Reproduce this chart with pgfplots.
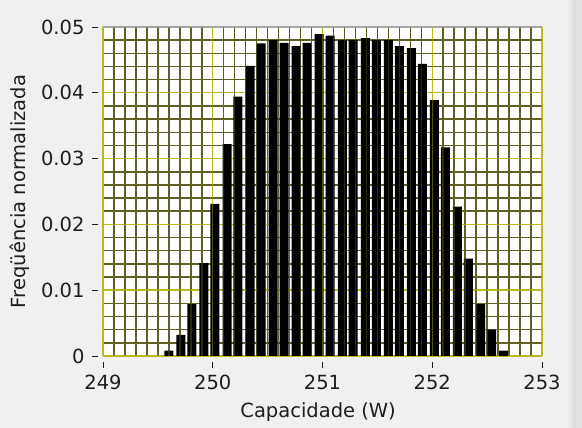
\documentclass[border=0pt]{standalone}
\usepackage{fontspec}
\setmainfont{DejaVu Sans}
\usepackage{pgfplots}
\pgfplotsset{compat=1.18}
\definecolor{bg}{RGB}{240,240,240}
\definecolor{strip}{RGB}{226,226,226}
\definecolor{stripdark}{RGB}{218,218,218}
\definecolor{gmajor}{RGB}{188,188,24}
\definecolor{gminor}{RGB}{95,95,38}
\definecolor{framegray}{RGB}{165,165,165}
\definecolor{txt}{RGB}{30,30,30}

\pgfplotstableread{
x y
249.60 0.0008
249.71 0.0032
249.81 0.0079
249.92 0.0141
250.02 0.0231
250.13 0.0322
250.23 0.0394
250.34 0.0441
250.44 0.0475
250.55 0.0480
250.65 0.0476
250.76 0.0471
250.86 0.0476
250.97 0.0489
251.07 0.0487
251.18 0.0480
251.28 0.0480
251.39 0.0483
251.49 0.0480
251.60 0.0480
251.70 0.0471
251.81 0.0468
251.91 0.0444
252.02 0.0389
252.12 0.0317
252.23 0.0227
252.33 0.0148
252.44 0.0079
252.54 0.0040
252.65 0.0008
}\histdata

\begin{document}
\begin{tikzpicture}[x=1pt,y=1pt]
\fill[bg] (0,0) rectangle (582,428);
\shade[left color=bg, right color=stripdark] (566,0) rectangle (576,428);
\fill[strip] (576,0) rectangle (582,428);
\path[use as bounding box] (0,0) rectangle (582,428);
\begin{axis}[
  at={(103pt,72pt)}, anchor=south west, scale only axis,
  width=439pt, height=329pt,
  xmin=249, xmax=253, ymin=0, ymax=0.05,
  axis background/.style={fill=white},
  axis line style={draw=none},
  xtick={249,250,251,252,253},
  xticklabels={249,250,251,252,253},
  ytick={0,0.01,0.02,0.03,0.04,0.05},
  yticklabels={0,0.01,0.02,0.03,0.04,0.05},
  scaled y ticks=false,
  minor x tick num=9, minor y tick num=4,
  grid=both,
  minor grid style={gminor, line width=1.5pt},
  major grid style={gmajor, line width=1.4pt},
  tick align=outside,
  major tick length=6pt, minor tick length=0pt,
  xtick pos=bottom, ytick pos=left,
  xtick style={yshift=-6pt, txt, line width=0.9pt},
  ytick style={xshift=-5pt, txt, line width=0.9pt},
  tick label style={font=\fontsize{19.5}{23}\selectfont, text=txt},
  yticklabel style={xshift=-9pt},
  xticklabel style={yshift=-9pt},
  label style={font=\fontsize{19.5}{23}\selectfont, text=txt},
  xlabel={Capacidade (W)},
  ylabel={Freqüência normalizada},
  xlabel style={at={(axis description cs:0.49,-0.17)}, anchor=center},
  ylabel style={at={(axis description cs:-0.189,0.5)}, anchor=center},
]
\addplot[ybar, bar width=9pt, fill=black, draw=none] table[x=x, y=y] {\histdata};
\draw[framegray, line width=1.8pt] (rel axis cs:0,0) -- (rel axis cs:0,1) -- (rel axis cs:1,1);
\end{axis}
\begin{axis}[
  at={(103pt,72pt)}, anchor=south west, scale only axis,
  width=439pt, height=329pt,
  xmin=249, xmax=253, ymin=0, ymax=0.05,
  axis line style={draw=none},
  xtick={249,250,251,252,253}, xticklabels={},
  ytick=\empty,
  minor x tick num=9,
  xmajorgrids, xminorgrids,
  minor grid style={gminor, line width=1.5pt, opacity=0.45},
  major grid style={gmajor, line width=1.4pt, opacity=0.45},
  major tick length=0pt, minor tick length=0pt,
]
\end{axis}
\end{tikzpicture}
\end{document}
